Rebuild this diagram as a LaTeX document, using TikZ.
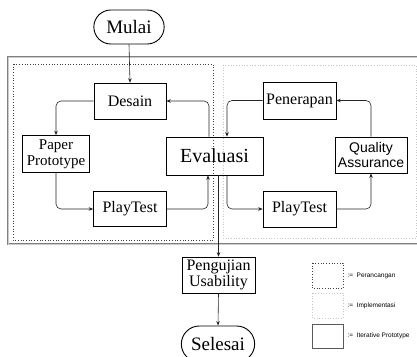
\documentclass[tikz,border=0pt]{standalone}
\usepackage{fontspec}
\setmainfont{Liberation Serif}
\setsansfont{Liberation Sans}
\usetikzlibrary{arrows.meta,shapes.misc,calc}

\tikzset{
  box/.style={draw, line width=0.6pt, inner sep=2pt, align=center, font=\fontsize{16}{16}\selectfont},
  term/.style={draw, line width=0.9pt, rounded rectangle, minimum width=77pt, minimum height=34pt, font=\fontsize{19}{19}\selectfont},
  arr/.style={-{Stealth[length=4.5pt,width=3.5pt]}, line width=0.6pt, gray!30!black, rounded corners=5pt},
  legtext/.style={font=\sffamily\fontsize{6.5}{7}\selectfont, anchor=west}
}

\begin{document}
\begin{tikzpicture}[x=1pt,y=-1pt]
		\useasboundingbox (0,0) rectangle (417,356);
		\clip (0,0) rectangle (417,356);

		% kotak iterasi
		\draw[gray, double=gray!40, double distance=0.8pt, line width=0.7pt] (8,57) rectangle (425,244);
		\draw[gray!50!black, dotted, line width=0.7pt] (13,64) rectangle (213,240);
		\draw[gray!45, dotted, line width=0.7pt] (223,65) rectangle (416,238);

		% node
		\node[term] (mulai) at (129,27) {Mulai};
		\node[box, minimum width=72pt, minimum height=36pt] (desain) at (130,101) {Desain};
		\node[box, minimum width=67pt, minimum height=37pt, font=\fontsize{15}{15.5}\selectfont] (paper) at (56,154) {Paper\\Prototype};
		\node[box, minimum width=73pt, minimum height=35pt] (playA) at (130,209) {PlayTest};
		\node[box, minimum width=97pt, minimum height=38pt, font=\fontsize{20}{20}\selectfont] (eval) at (214.5,156) {Evaluasi};
		\node[box, minimum width=73pt, minimum height=37pt] (terap) at (299.5,100.5) {Penerapan};
		\node[box, minimum width=72pt, minimum height=36pt, font=\sffamily\fontsize{14}{15}\selectfont] (qa) at (371,155) {Quality\\Assurance};
		\node[box, minimum width=73pt, minimum height=36pt] (playB) at (299.5,209) {PlayTest};
		\node[box, minimum width=73pt, minimum height=36pt, font=\fontsize{16}{16.5}\selectfont] (uji) at (218.5,275) {Pengujian\\Usability};
		\node[term, minimum width=80pt, minimum height=36pt] (selesai) at (218,344) {Selesai};

		% panah
		\draw[arr] (mulai.south) -- (desain.north);
		\draw[arr] (desain.west) -| (paper.north);
		\draw[arr] (paper.south) |- (playA.west);
		\draw[arr] (playA.east) -| ([xshift=-6.5pt]eval.south);
		\draw[arr] ([xshift=-5.5pt]eval.north) |- (desain.east);
		\draw[arr] (terap.west) -| ([xshift=12.5pt]eval.north);
		\draw[arr] ([xshift=12.5pt]eval.south) |- (playB.west);
		\draw[arr] (playB.east) -| (qa.south);
		\draw[arr] (qa.north) |- (terap.east);
		\draw[arr] (eval.south -| uji.north) -- (uji.north);
		\draw[arr] (uji.south) -- (selesai.north);

		% legenda
		\draw[gray!50!black, dotted, line width=0.7pt] (312,263) rectangle (343,288);
		\draw[gray!45, dotted, line width=0.7pt] (312,293) rectangle (343,318);
		\draw[gray!70!black, line width=0.7pt] (312,324) rectangle (343,348);
		\node[legtext] (lgA) at (344,276) {:=\ \ Perancangan};
		\node[legtext] (lgB) at (344,306) {:=\ \ Implementasi};
		\node[legtext] (lgC) at (344,336) {:=\ \ Iterative Prototype};
	\end{tikzpicture}
\end{document}
